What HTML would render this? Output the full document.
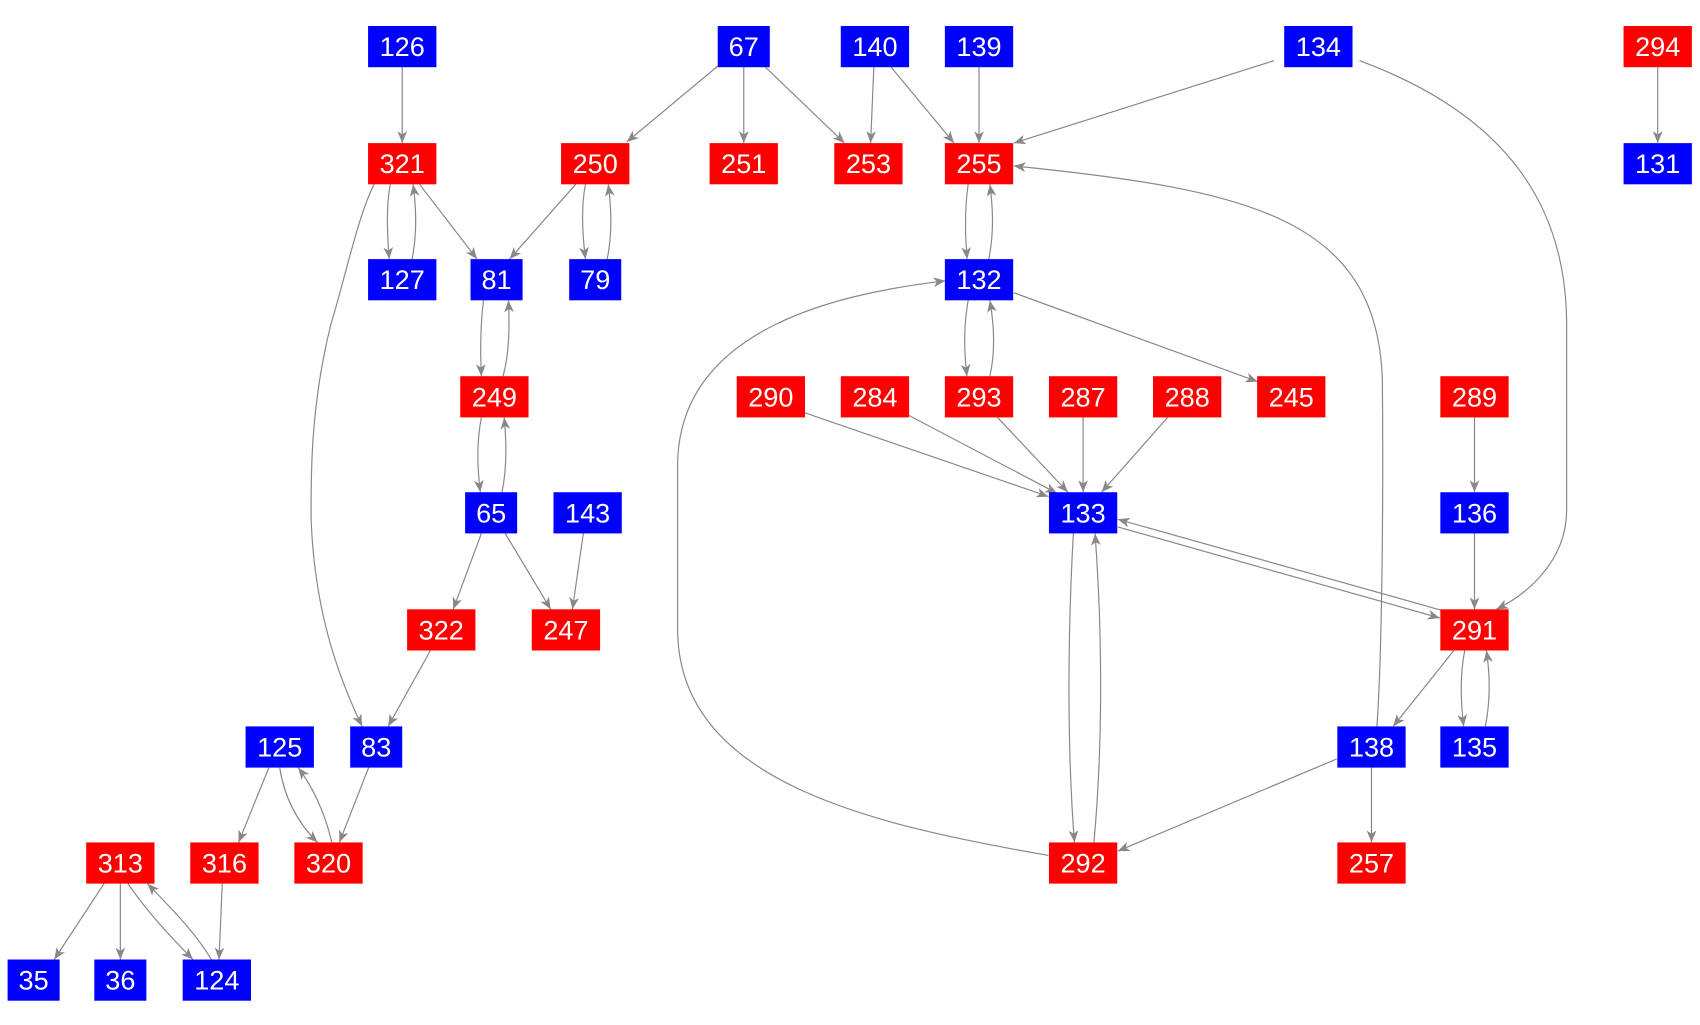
<!DOCTYPE html>
<html><head><meta charset="utf-8"><style>
html,body{margin:0;padding:0;background:#fff;width:1700px;height:1025px;overflow:hidden}
svg{display:block}
text{font-family:"Liberation Sans",Arial,sans-serif;font-size:25px;fill:#fff;text-anchor:middle;dominant-baseline:central}
path{fill:none;stroke:#888;stroke-width:1.1}
</style></head><body>
<svg width="1700" height="1025" viewBox="0 0 1568 945.4" xmlns="http://www.w3.org/2000/svg">
<defs><marker id="a" markerUnits="userSpaceOnUse" markerWidth="12" markerHeight="9" refX="11" refY="4.5" orient="auto"><path d="M0,0 L11,4.5 L0,9 L3,4.5 z" style="fill:#888;stroke:none"/></marker></defs>
<g marker-end="url(#a)">
<path d="M371,62 L371,132"/>
<path d="M662,61 L578,131"/>
<path d="M686,62 L686,132"/>
<path d="M706,62 L779,132"/>
<path d="M806,62 L803,132"/>
<path d="M822,62 L880,132"/>
<path d="M903,62 L903,132"/>
<path d="M1175,56 L935,132"/>
<path d="M1254,56 C1400,110 1445,200 1445,300 L1445,470 C1445,520 1405,550 1380,562"/>
<path d="M1529,62 L1529,132"/>
<path d="M360,170 C356,190 357,215 359,239"/>
<path d="M380,239 C385,215 384,192 381,170"/>
<path d="M387,170 L440,239"/>
<path d="M345,170 C330,200 320,250 305,300 C285,380 287,450 287,480 C290,560 310,620 334,670"/>
<path d="M531,170 L470,239"/>
<path d="M540,170 C536,190 537,215 540,239"/>
<path d="M560,239 C565,215 564,192 561,170"/>
<path d="M893,170 C890,190 890,215 892,239"/>
<path d="M912,239 C917,215 916,192 913,170"/>
<path d="M1270,670 C1275,600 1276,450 1275,350 C1270,200 1150,175 935,153"/>
<path d="M893,277 C889,300 889,325 892,347"/>
<path d="M913,347 C918,325 917,300 913,277"/>
<path d="M935,270 L1160,352"/>
<path d="M967,789 C800,760 625,720 625,580 L625,430 C625,300 780,270 872,259"/>
<path d="M446,277 C443,300 443,325 444,347"/>
<path d="M464,347 C470,325 470,300 469,277"/>
<path d="M444,385 C440,405 440,430 443,454"/>
<path d="M463,454 C468,430 467,405 465,385"/>
<path d="M740,380 L967,458"/>
<path d="M838,383 L975,455"/>
<path d="M920,385 L985,454"/>
<path d="M999,385 L999,454"/>
<path d="M1077,385 L1016,454"/>
<path d="M1031,486 L1328,570"/>
<path d="M1330,563 L1031,479"/>
<path d="M990,492 C984,600 985,700 991,777"/>
<path d="M1009,777 C1016,700 1018,600 1010,492"/>
<path d="M1360,385 L1360,454"/>
<path d="M1360,492 L1360,562"/>
<path d="M444,492 L418,562"/>
<path d="M466,492 L508,562"/>
<path d="M538,492 L528,562"/>
<path d="M397,600 L358,670"/>
<path d="M1341,600 L1285,670"/>
<path d="M1351,600 C1347,620 1347,645 1350,670"/>
<path d="M1370,670 C1375,645 1374,620 1371,600"/>
<path d="M248,708 L220,777"/>
<path d="M258,708 C262,735 275,760 293,777"/>
<path d="M306,777 C300,750 288,725 275,708"/>
<path d="M340,708 L313,777"/>
<path d="M1233,700 L1031,785"/>
<path d="M1265,708 L1265,777"/>
<path d="M96,815 L50,885"/>
<path d="M111,815 L111,885"/>
<path d="M118,815 C135,840 155,862 178,885"/>
<path d="M195,885 C180,860 160,840 136,815"/>
<path d="M205,815 L202,885"/>
</g>
<g id="n">
<rect x="339.5" y="24" width="63" height="38" fill="#0000ff"/><text x="371" y="43">126</text>
<rect x="662" y="24" width="48" height="38" fill="#0000ff"/><text x="686" y="43">67</text>
<rect x="775.5" y="24" width="63" height="38" fill="#0000ff"/><text x="807" y="43">140</text>
<rect x="871.5" y="24" width="63" height="38" fill="#0000ff"/><text x="903" y="43">139</text>
<rect x="1184.5" y="24" width="63" height="38" fill="#0000ff"/><text x="1216" y="43">134</text>
<rect x="1497.5" y="24" width="63" height="38" fill="#ff0000"/><text x="1529" y="43">294</text>
<rect x="339.5" y="132" width="63" height="38" fill="#ff0000"/><text x="371" y="151">321</text>
<rect x="517.5" y="132" width="63" height="38" fill="#ff0000"/><text x="549" y="151">250</text>
<rect x="654.5" y="132" width="63" height="38" fill="#ff0000"/><text x="686" y="151">251</text>
<rect x="769.5" y="132" width="63" height="38" fill="#ff0000"/><text x="801" y="151">253</text>
<rect x="871.5" y="132" width="63" height="38" fill="#ff0000"/><text x="903" y="151">255</text>
<rect x="1497.5" y="132" width="63" height="38" fill="#0000ff"/><text x="1529" y="151">131</text>
<rect x="339.5" y="239" width="63" height="38" fill="#0000ff"/><text x="371" y="258">127</text>
<rect x="434" y="239" width="48" height="38" fill="#0000ff"/><text x="458" y="258">81</text>
<rect x="525" y="239" width="48" height="38" fill="#0000ff"/><text x="549" y="258">79</text>
<rect x="871.5" y="239" width="63" height="38" fill="#0000ff"/><text x="903" y="258">132</text>
<rect x="424.5" y="347" width="63" height="38" fill="#ff0000"/><text x="456" y="366">249</text>
<rect x="679.5" y="347" width="63" height="38" fill="#ff0000"/><text x="711" y="366">290</text>
<rect x="775.5" y="347" width="63" height="38" fill="#ff0000"/><text x="807" y="366">284</text>
<rect x="871.5" y="347" width="63" height="38" fill="#ff0000"/><text x="903" y="366">293</text>
<rect x="967.5" y="347" width="63" height="38" fill="#ff0000"/><text x="999" y="366">287</text>
<rect x="1063.5" y="347" width="63" height="38" fill="#ff0000"/><text x="1095" y="366">288</text>
<rect x="1159.5" y="347" width="63" height="38" fill="#ff0000"/><text x="1191" y="366">245</text>
<rect x="1328.5" y="347" width="63" height="38" fill="#ff0000"/><text x="1360" y="366">289</text>
<rect x="429" y="454" width="48" height="38" fill="#0000ff"/><text x="453" y="473">65</text>
<rect x="510.5" y="454" width="63" height="38" fill="#0000ff"/><text x="542" y="473">143</text>
<rect x="967.5" y="454" width="63" height="38" fill="#0000ff"/><text x="999" y="473">133</text>
<rect x="1328.5" y="454" width="63" height="38" fill="#0000ff"/><text x="1360" y="473">136</text>
<rect x="375.5" y="562" width="63" height="38" fill="#ff0000"/><text x="407" y="581">322</text>
<rect x="490.5" y="562" width="63" height="38" fill="#ff0000"/><text x="522" y="581">247</text>
<rect x="1328.5" y="562" width="63" height="38" fill="#ff0000"/><text x="1360" y="581">291</text>
<rect x="226.5" y="670" width="63" height="38" fill="#0000ff"/><text x="258" y="689">125</text>
<rect x="323" y="670" width="48" height="38" fill="#0000ff"/><text x="347" y="689">83</text>
<rect x="1233.5" y="670" width="63" height="38" fill="#0000ff"/><text x="1265" y="689">138</text>
<rect x="1328.5" y="670" width="63" height="38" fill="#0000ff"/><text x="1360" y="689">135</text>
<rect x="79.5" y="777" width="63" height="38" fill="#ff0000"/><text x="111" y="796">313</text>
<rect x="175.5" y="777" width="63" height="38" fill="#ff0000"/><text x="207" y="796">316</text>
<rect x="271.5" y="777" width="63" height="38" fill="#ff0000"/><text x="303" y="796">320</text>
<rect x="967.5" y="777" width="63" height="38" fill="#ff0000"/><text x="999" y="796">292</text>
<rect x="1233.5" y="777" width="63" height="38" fill="#ff0000"/><text x="1265" y="796">257</text>
<rect x="7" y="885" width="48" height="38" fill="#0000ff"/><text x="31" y="904">35</text>
<rect x="87" y="885" width="48" height="38" fill="#0000ff"/><text x="111" y="904">36</text>
<rect x="168.5" y="885" width="63" height="38" fill="#0000ff"/><text x="200" y="904">124</text>
</g>
</svg>
</body></html>
